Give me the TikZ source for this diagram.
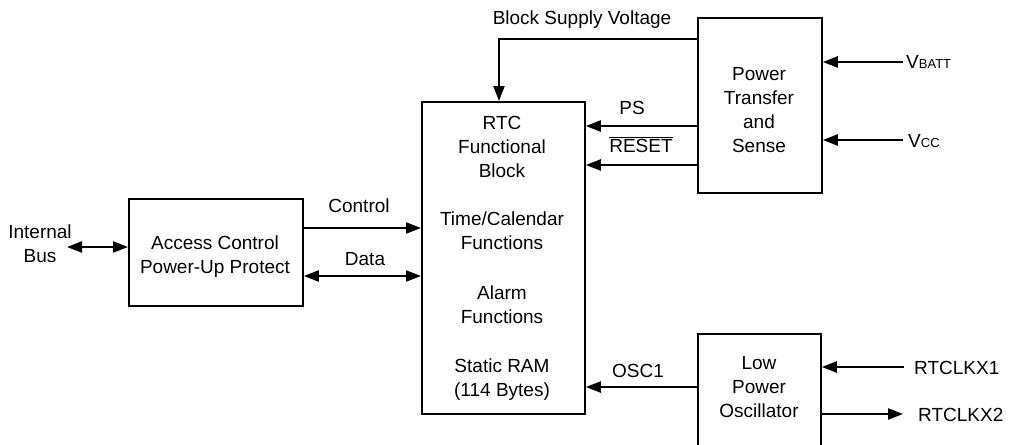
\documentclass[tikz,border=0pt]{standalone}
\usepackage{fontspec}
\setmainfont{Liberation Sans}
\usetikzlibrary{arrows.meta}
\begin{document}
\begin{tikzpicture}[x=1pt,y=-1pt,
  blk/.style={draw,line width=1.8pt,inner sep=0pt,anchor=north west},
  txt/.style={font=\fontsize{19}{24}\selectfont,align=center,inner sep=0pt,anchor=base},
  lbl/.style={font=\fontsize{19}{24}\selectfont,inner sep=0pt,anchor=base},
  rlbl/.style={font=\fontsize{19}{24}\selectfont,inner sep=0pt,anchor=base west},
  arr/.style={line width=2.2pt,-{Triangle[length=15pt,width=11pt]}},
  darr/.style={line width=2.2pt,{Triangle[length=15pt,width=11pt]}-{Triangle[length=15pt,width=11pt]}}]
\clip (0,0) rectangle (1019,444);
\fill[white] (0,0) rectangle (1019,444);
% boxes
\node[blk,minimum width=174pt,minimum height=107pt] (acc) at (128,198) {};
\node[blk,minimum width=163pt,minimum height=312pt] (rtc) at (421,101) {};
\node[blk,minimum width=124pt,minimum height=175pt] (pwr) at (697,17) {};
\node[blk,minimum width=123pt,minimum height=140pt] (osc) at (697,333) {};
% box texts (anchor base = baseline of last line)
\node[txt] (acctxt) at (215,273) {Access Control\\Power-Up Protect};
\node[txt] (rtctxt1) at (502,177) {RTC\\Functional\\Block};
\node[txt] (rtctxt2) at (502,249) {Time/Calendar\\Functions};
\node[txt] (rtctxt3) at (502,323) {Alarm\\Functions};
\node[txt] (rtctxt4) at (502,396) {Static RAM\\(114 Bytes)};
\node[txt] (pwrtxt) at (759,152) {Power\\Transfer\\and\\Sense};
\node[txt] (osctxt) at (759,417) {Low\\Power\\Oscillator};
% outside labels / terminals
\node[txt] (ibus) at (40,262) {Internal\\Bus};
\coordinate (ibusend) at (67,247);
\node[rlbl] (vbatt) at (906,69) {V{\fontsize{13}{13}\selectfont BATT}};
\node[rlbl] (vcc) at (908,147) {V{\fontsize{13}{13}\selectfont CC}};
\node[rlbl] (clk1) at (914,374) {RTCLKX1};
\node[rlbl] (clk2) at (918,421) {RTCLKX2};
\coordinate (vbattend) at (903,62);
\coordinate (vccend) at (903,140);
\coordinate (clk1end) at (904,367);
\coordinate (clk2end) at (903,414);
% connector labels
\node[lbl] (bsvlbl) at (582,25) {Block Supply Voltage};
\node[lbl] (pslbl) at (632,114) {PS};
\node[lbl] (rstlbl) at (641,152) {$\overline{\hbox{RESET}}$};
\node[lbl] (ctllbl) at (359,212) {Control};
\node[lbl] (datlbl) at (365,265) {Data};
\node[lbl] (osclbl) at (638,377) {OSC1};
% levels
\coordinate (bsv) at (499,39);
\coordinate (ps) at (0,126);
\coordinate (rst) at (0,165);
\coordinate (ctl) at (0,228);
\coordinate (dat) at (0,276);
\coordinate (oscl) at (0,387);
% connectors
\draw[arr] (pwr.west |- bsv) -| (rtc.north -| bsv);
\draw[arr] (pwr.west |- ps) -- (rtc.east |- ps);
\draw[arr] (pwr.west |- rst) -- (rtc.east |- rst);
\draw[arr] (acc.east |- ctl) -- (rtc.west |- ctl);
\draw[darr] (acc.east |- dat) -- (rtc.west |- dat);
\draw[darr] (ibusend) -- (acc.west |- ibusend);
\draw[arr] (vbattend) -- (pwr.east |- vbattend);
\draw[arr] (vccend) -- (pwr.east |- vccend);
\draw[arr] (osc.west |- oscl) -- (rtc.east |- oscl);
\draw[arr] (clk1end) -- (osc.east |- clk1end);
\draw[arr] (osc.east |- clk2end) -- (clk2end);
\end{tikzpicture}
\end{document}
